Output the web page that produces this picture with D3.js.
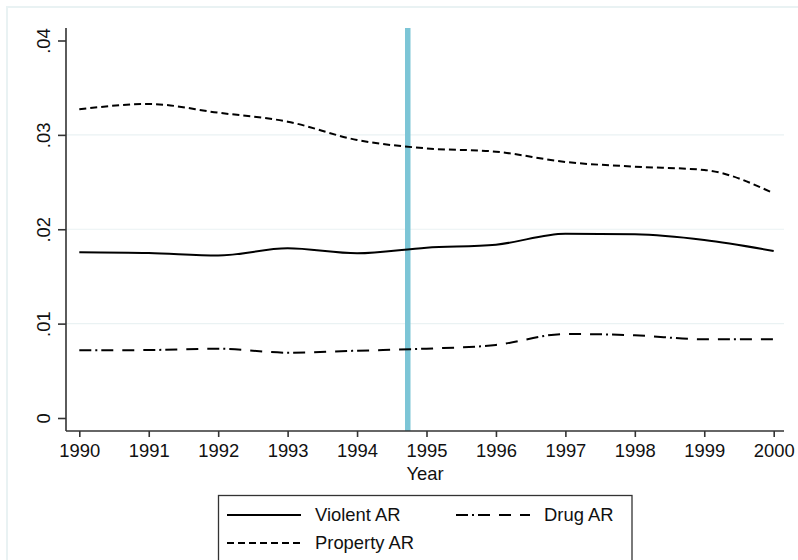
<!DOCTYPE html>
<html>
<head>
<meta charset="utf-8">
<script src="https://cdn.jsdelivr.net/npm/d3@7"></script>
<style>
  html, body { margin: 0; padding: 0; background: #fff; }
  svg { display: block; font-family: "Liberation Sans", Arial, sans-serif; }
</style>
</head>
<body>
<svg id="chart" width="798" height="560"></svg>
<script>
// Arrest rates by year
const years = [1990, 1991, 1992, 1993, 1994, 1995, 1996, 1997, 1998, 1999, 2000];
const violentAR = [0.01756, 0.01748, 0.01722, 0.01798, 0.01745, 0.01805, 0.01837, 0.01953, 0.01946, 0.01886, 0.01770];
const propertyAR = [0.03271, 0.03327, 0.03235, 0.03140, 0.02946, 0.02857, 0.02822, 0.02713, 0.02663, 0.02628, 0.02381];
const drugAR = [0.00717, 0.00720, 0.00735, 0.00692, 0.00713, 0.00735, 0.00774, 0.00890, 0.00876, 0.00834, 0.00834];
const yTicks = [0, 0.01, 0.02, 0.03, 0.04];
const yTickLabels = ["0", ".01", ".02", ".03", ".04"];
const policyYear = 1994.73;

const series = [
  { name: "Violent AR", values: violentAR, dash: null },
  { name: "Drug AR", values: drugAR, dash: "12,4,2,4,12,9,12,9" },
  { name: "Property AR", values: propertyAR, dash: "7,4" }
];

const svg = d3.select("#chart");
const plot = { left: 66, right: 784, top: 28, bottom: 431 };

const x = d3.scaleLinear().domain([1990, 2000]).range([79.3, 773.7]);
const y = d3.scaleLinear().domain([0, 0.04]).range([418, 40.5]);

// outer graph-region border
svg.append("path")
  .attr("d", "M7,560 V7 H798")
  .attr("fill", "none")
  .attr("stroke", "#e9f2f3")
  .attr("stroke-width", 2);

// horizontal gridlines
svg.append("g")
  .selectAll("line")
  .data(yTicks.filter(d => d > 0 && d < 0.04))
  .join("line")
  .attr("x1", plot.left)
  .attr("x2", plot.right)
  .attr("y1", d => y(d))
  .attr("y2", d => y(d))
  .attr("stroke", "#eaf2f3")
  .attr("stroke-width", 1.2);

// reference vertical line
svg.append("line")
  .attr("x1", x(policyYear))
  .attr("x2", x(policyYear))
  .attr("y1", plot.top)
  .attr("y2", plot.bottom)
  .attr("stroke", "#7cc5d6")
  .attr("stroke-width", 5.5);

// series lines
const line = d3.line()
  .x((d, i) => x(years[i]))
  .y(d => y(d))
  .curve(d3.curveMonotoneX);

svg.append("g")
  .selectAll("path")
  .data(series)
  .join("path")
  .attr("d", d => line(d.values))
  .attr("fill", "none")
  .attr("stroke", "#000")
  .attr("stroke-width", 2)
  .attr("stroke-dasharray", d => d.dash);

// y axis
const yAxis = d3.axisLeft(y)
  .tickValues(yTicks)
  .tickFormat((d, i) => yTickLabels[i])
  .tickSize(8)
  .tickPadding(8);
const gy = svg.append("g")
  .attr("transform", `translate(${plot.left},0)`)
  .call(yAxis);
gy.select(".domain").attr("d", `M0,${plot.top}V${plot.bottom}`);
gy.selectAll("line, .domain").attr("stroke", "#333").attr("stroke-width", 1.6);
gy.selectAll("text")
  .attr("font-size", 18.4)
  .attr("fill", "#111")
  .attr("text-anchor", "middle")
  .attr("x", null)
  .attr("dy", null)
  .attr("transform", "translate(-17,0) rotate(-90) translate(0,-6)")
  .attr("dominant-baseline", "central");

// x axis
const xAxis = d3.axisBottom(x)
  .tickValues(years)
  .tickFormat(d3.format("d"))
  .tickSize(6)
  .tickPadding(7);
const gx = svg.append("g")
  .attr("transform", `translate(0,${plot.bottom})`)
  .call(xAxis);
gx.select(".domain").attr("d", `M${plot.left},0H${plot.right}`);
gx.selectAll("line, .domain").attr("stroke", "#333").attr("stroke-width", 1.6);
gx.selectAll("text").attr("font-size", 18.4).attr("fill", "#111");

// axis title
svg.append("text")
  .attr("x", (plot.left + plot.right) / 2)
  .attr("y", 480)
  .attr("text-anchor", "middle")
  .attr("font-size", 18.4)
  .attr("fill", "#111")
  .text("Year");

// legend
const legend = svg.append("g");
legend.append("rect")
  .attr("x", 218.5)
  .attr("y", 495.5)
  .attr("width", 413.5)
  .attr("height", 80)
  .attr("fill", "#fff")
  .attr("stroke", "#333")
  .attr("stroke-width", 1.3);

const legendPos = [
  { sx: 227, tx: 315, y: 515 },
  { sx: 456, tx: 544, y: 515 },
  { sx: 227, tx: 315, y: 543 }
];
const items = legend.selectAll("g.item")
  .data(series)
  .join("g")
  .attr("class", "item");
items.append("line")
  .attr("x1", (d, i) => legendPos[i].sx)
  .attr("x2", (d, i) => legendPos[i].sx + 74)
  .attr("y1", (d, i) => legendPos[i].y)
  .attr("y2", (d, i) => legendPos[i].y)
  .attr("stroke", "#000")
  .attr("stroke-width", 2)
  .attr("stroke-dasharray", d => d.dash);
items.append("text")
  .attr("x", (d, i) => legendPos[i].tx)
  .attr("y", (d, i) => legendPos[i].y)
  .attr("dy", "0.35em")
  .attr("font-size", 18.4)
  .attr("fill", "#111")
  .text(d => d.name);
</script>
</body>
</html>
